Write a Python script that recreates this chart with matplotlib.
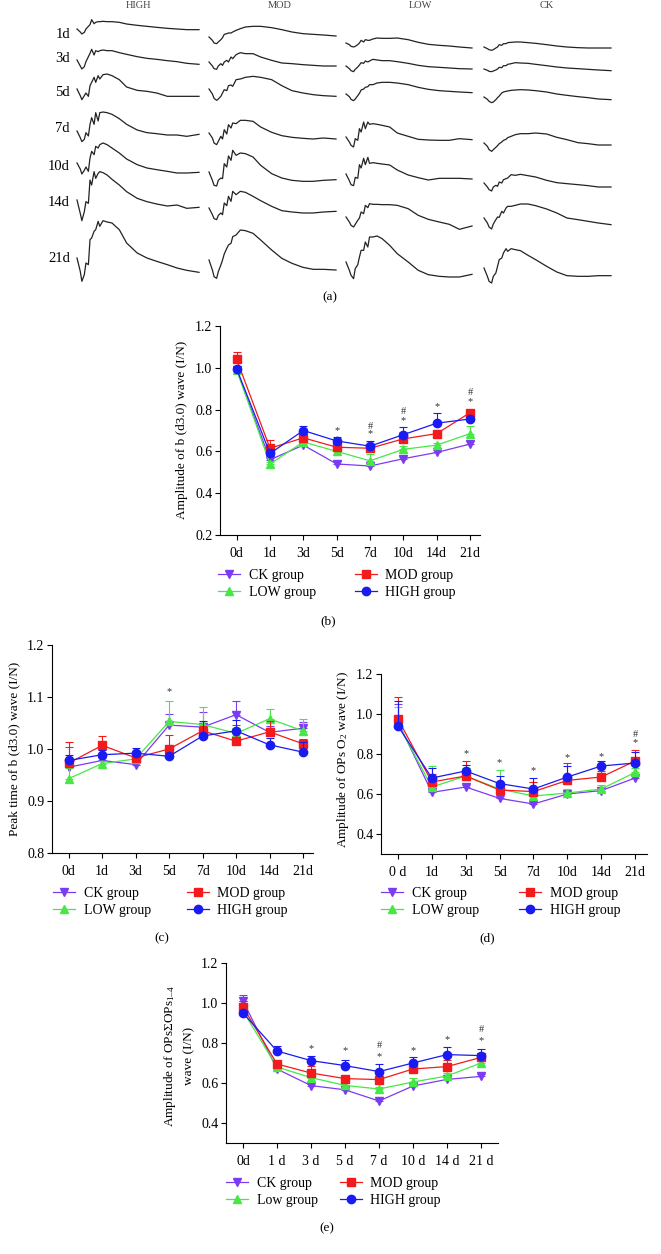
import matplotlib.pyplot as plt
import numpy as np

plt.rcParams['font.family'] = ['Liberation Serif', 'DejaVu Serif']
plt.rcParams['mathtext.fontset'] = 'custom'
plt.rcParams['mathtext.rm'] = 'Liberation Serif'
plt.rcParams['mathtext.it'] = 'Liberation Serif:italic'

W, H = 661, 1254

# --- panel (a): ERG traces, amplitude in arbitrary units sampled at t_ms ---
t_ms = [0, 4, 6, 9, 11, 14, 16, 18, 21, 23, 26, 28, 32, 37, 43, 52, 61, 74, 86, 98, 111, 123, 135, 150]
trace_days = ['1d', '3d', '5d', '7d', '10d', '14d', '21d']
trace_groups = ['HIGH', 'MOD', 'LOW', 'CK']

erg_high = [
    [0, -9, -15, -10, 0, 8, 13, 28, 16, 20, 22, 22, 23, 22, 22, 20, 15, 11, 8, 5, 2, 0, -2, -2],
    [0, -18, -27, -20, -5, 10, 20, 32, 15, 28, 25, 28, 30, 28, 28, 22, 17, 10, 5, 2, -2, -5, -10, -13],
    [0, -20, -32, -20, -12, -22, 10, 20, 35, 20, 40, 30, 43, 45, 40, 28, 6, -4, -7, -12, -22, -22, -22, -22],
    [0, -20, -32, -25, -5, -15, 20, 40, 20, 55, 30, 55, 57, 55, 50, 37, 20, 3, -5, -8, -12, -12, -16, -10],
    [0, -18, -33, -22, -12, -25, 15, 35, 25, 50, 45, 55, 60, 55, 45, 30, 12, -5, -15, -20, -25, -30, -30, -28],
    [0, -40, -62, -35, -5, -10, 60, 45, 85, 65, 80, 85, 82, 75, 62, 45, 25, 5, -5, -12, -18, -15, -25, -22],
    [0, -40, -70, -50, -15, -20, 55, 60, 80, 85, 110, 95, 112, 108, 105, 85, 45, 15, 0, -10, -20, -30, -37, -43],
]
erg_mod = [
    [0, -10, -18, -20, -15, -8, -2, 8, 10, 12, 12, 15, 20, 25, 30, 32, 32, 28, 22, 15, 10, 8, 6, 3],
    [0, -12, -20, -22, -12, -5, -10, 0, 5, 0, 15, 10, 22, 28, 25, 25, 15, 5, -3, -5, -8, -10, -12, -12],
    [0, -15, -28, -34, -30, -22, -12, -2, -5, 10, 12, 8, 28, 30, 35, 38, 35, 28, 10, -5, -12, -17, -20, -22],
    [0, -15, -30, -35, -25, -10, -18, 10, -3, 25, 15, 30, 28, 38, 38, 35, 18, 2, -8, -13, -16, -18, -15, -18],
    [0, -25, -40, -42, -25, -18, -20, 25, 15, 48, 35, 65, 50, 57, 55, 45, 20, -5, -18, -25, -28, -28, -25, -23],
    [0, -20, -32, -35, -22, -15, -20, 15, 7, 35, 20, 50, 40, 50, 47, 35, 22, 5, -8, -12, -15, -15, -12, -10],
    [0, -30, -50, -55, -35, -15, 0, 18, 35, 45, 50, 70, 75, 90, 88, 80, 60, 30, 5, -10, -22, -28, -28, -30],
]
erg_low = [
    [0, -5, -10, -12, -10, -5, 0, 8, 3, 10, 8, 8, 12, 15, 14, 14, 15, 10, 2, -4, -7, -9, -12, -15],
    [0, -8, -14, -17, -10, -3, 3, 10, 8, 15, 12, 15, 20, 18, 16, 16, 13, 8, 2, -2, -4, -6, -8, -9],
    [0, -8, -16, -20, -15, -5, 2, 12, 15, 20, 22, 28, 28, 33, 35, 35, 33, 28, 20, 14, 10, 8, 6, 4],
    [0, -15, -25, -30, -5, -10, 25, 15, 45, 25, 45, 38, 40, 38, 35, 30, 12, 2, -7, -9, -10, -10, -5, -8],
    [0, -20, -32, -35, -10, -13, 28, 18, 47, 28, 50, 32, 34, 32, 30, 27, 12, -3, -11, -18, -13, -13, -13, -15],
    [0, -15, -25, -30, -22, -10, -3, 15, 10, 35, 28, 40, 38, 38, 37, 37, 35, 25, 5, -7, -15, -22, -37, -27],
    [0, -25, -40, -50, -20, -8, 15, 35, 35, 60, 45, 75, 75, 78, 70, 50, 25, 0, -25, -38, -43, -45, -45, -37],
]
erg_ck = [
    [0, -5, -8, -10, -8, -3, 0, 7, 5, 10, 10, 13, 14, 15, 15, 13, 11, 7, 3, 0, -2, -3, -3, -3],
    [0, -4, -7, -8, -6, -3, 0, 5, 4, 10, 10, 14, 16, 19, 18, 17, 14, 10, 6, 3, 1, -1, -3, -5],
    [0, -7, -13, -17, -15, -8, -2, 3, 12, 15, 17, 18, 20, 21, 22, 21, 19, 15, 9, 5, 1, -2, -6, -8],
    [0, -10, -20, -25, -20, -13, -8, -2, 3, 8, 11, 16, 20, 25, 28, 28, 30, 27, 17, 10, 1, -2, -6, -6],
    [0, -12, -20, -24, -12, -7, -10, 3, 0, 10, 13, 15, 25, 23, 26, 22, 18, 8, 1, -2, -5, -8, -12, -12],
    [0, -15, -27, -33, -18, -5, 3, 2, 20, 15, 30, 35, 35, 38, 42, 42, 37, 27, 15, 0, -5, -10, -15, -20],
    [0, -25, -40, -45, -25, -15, 5, 25, 30, 45, 58, 50, 58, 55, 52, 38, 25, 5, -12, -23, -25, -25, -23, -23],
]

# --- time-course panels ---
days = ['0d', '1d', '3d', '5d', '7d', '10d', '14d', '21d']
days_d = ['0 d', '1d', '3d', '5d', '7d', '10d', '14d', '21d']
days_e = ['0d', '1 d', '3 d', '5 d', '7 d', '10 d', '14 d', '21 d']
groups = ['CK group', 'LOW group', 'MOD group', 'HIGH group']
groups_e = ['CK group', 'Low group', 'MOD group', 'HIGH group']

b_ck = [0.99, 0.56, 0.63, 0.54, 0.53, 0.565, 0.595, 0.635]
b_low = [0.99, 0.54, 0.645, 0.60, 0.555, 0.61, 0.63, 0.685]
b_mod = [1.04, 0.615, 0.665, 0.62, 0.615, 0.66, 0.685, 0.785]
b_high = [0.995, 0.59, 0.70, 0.65, 0.625, 0.68, 0.735, 0.755]
b_ck_sd = [0.02, 0.01, 0.01, 0.015, 0.01, 0.01, 0.01, 0.015]
b_low_sd = [0.015, 0.01, 0.01, 0.01, 0.032, 0.015, 0.01, 0.035]
b_mod_sd = [0.035, 0.04, 0.015, 0.015, 0.01, 0.035, 0.01, 0.01]
b_high_sd = [0.01, 0.02, 0.023, 0.02, 0.025, 0.035, 0.05, 0.01]
b_sig = [(3, '*', 0.70), (4, '*', 0.683), (4, '#', 0.72), (5, '*', 0.749), (5, '#', 0.793),
         (6, '*', 0.814), (7, '*', 0.838), (7, '#', 0.881)]

c_ck = [0.965, 0.978, 0.970, 1.046, 1.042, 1.066, 1.032, 1.040]
c_low = [0.943, 0.972, 0.981, 1.053, 1.047, 1.030, 1.058, 1.035]
c_mod = [0.973, 1.007, 0.983, 1.000, 1.035, 1.015, 1.033, 1.010]
c_high = [0.978, 0.989, 0.992, 0.986, 1.025, 1.035, 1.008, 0.994]
c_ck_sd = [0.038, 0.01, 0.005, 0.022, 0.03, 0.026, 0.013, 0.012]
c_low_sd = [0.02, 0.005, 0.005, 0.039, 0.033, 0.01, 0.019, 0.023]
c_mod_sd = [0.04, 0.018, 0.005, 0.027, 0.01, 0.032, 0.02, 0.01]
c_high_sd = [0.01, 0.01, 0.01, 0.005, 0.029, 0.02, 0.014, 0.02]
c_sig = [(3, '*', 1.11)]

d_ck = [0.96, 0.608, 0.635, 0.578, 0.55, 0.60, 0.617, 0.68]
d_low = [0.95, 0.635, 0.69, 0.625, 0.59, 0.605, 0.625, 0.708]
d_mod = [0.975, 0.66, 0.69, 0.62, 0.612, 0.668, 0.685, 0.765]
d_high = [0.94, 0.68, 0.715, 0.652, 0.625, 0.685, 0.74, 0.755]
d_ck_sd = [0.09, 0.01, 0.01, 0.01, 0.01, 0.01, 0.01, 0.01]
d_low_sd = [0.085, 0.105, 0.04, 0.097, 0.07, 0.02, 0.02, 0.02]
d_mod_sd = [0.11, 0.04, 0.073, 0.03, 0.05, 0.085, 0.03, 0.053]
d_high_sd = [0.125, 0.05, 0.03, 0.04, 0.055, 0.055, 0.025, 0.055]
d_sig = [(2, '*', 0.80), (3, '*', 0.757), (4, '*', 0.715), (5, '*', 0.783), (6, '*', 0.787),
         (7, '*', 0.857), (7, '#', 0.898)]

e_ck = [1.01, 0.67, 0.587, 0.566, 0.51, 0.585, 0.618, 0.633]
e_low = [0.96, 0.68, 0.627, 0.588, 0.57, 0.605, 0.635, 0.70]
e_mod = [0.98, 0.695, 0.65, 0.622, 0.617, 0.67, 0.682, 0.728]
e_high = [0.95, 0.76, 0.712, 0.687, 0.657, 0.70, 0.742, 0.737]
e_ck_sd = [0.03, 0.01, 0.01, 0.01, 0.01, 0.01, 0.01, 0.01]
e_low_sd = [0.02, 0.01, 0.01, 0.01, 0.01, 0.022, 0.015, 0.01]
e_mod_sd = [0.03, 0.015, 0.035, 0.015, 0.01, 0.015, 0.035, 0.015]
e_high_sd = [0.01, 0.025, 0.023, 0.028, 0.036, 0.03, 0.04, 0.031]
e_sig = [(2, '*', 0.773), (3, '*', 0.761), (4, '*', 0.731), (4, '#', 0.79), (5, '*', 0.761),
         (6, '*', 0.818), (7, '*', 0.81), (7, '#', 0.867)]

colors = ['#7B3BF2', '#45E845', '#F21A1A', '#1A1AF2']
markers = ['v', '^', 's', 'o']

fig = plt.figure(figsize=(W / 100, H / 100), dpi=100)


def fx(px):
    return px / W


def fy(py):
    return 1 - py / H


# ---------------- panel (a) ----------------
ax_a = fig.add_axes([0, fy(300), 1, 300 / H])
ax_a.set_xlim(0, W)
ax_a.set_ylim(300, 0)
ax_a.axis('off')

trace_x0 = [77, 209, 346, 484]
trace_w = [122, 127, 126, 127]
trace_base = [
    [29, 60, 89, 131, 163, 200, 258],
    [37, 62, 89, 133, 172, 208, 260],
    [43, 66, 94, 137, 174, 217, 262],
    [47, 69, 97, 143, 183, 218, 268],
]
t = np.array(t_ms)
for gi, traces in enumerate([erg_high, erg_mod, erg_low, erg_ck]):
    for di, amp in enumerate(traces):
        xs = trace_x0[gi] + t / 150 * trace_w[gi]
        ys = trace_base[gi][di] - np.array(amp) / 3
        ax_a.plot(xs, ys, color='#222222', lw=0.9)

for gi, g in enumerate(trace_groups):
    ax_a.text([138, 280, 420, 547][gi], 1, g, ha='center', va='top', fontsize=7.5, color='#444444')
for di, d in enumerate(trace_days):
    ax_a.text(70, [34, 58, 92, 129, 166, 203, 259][di], d, ha='right', va='center', fontsize=10.5)
ax_a.text(330, 297, '(a)', ha='center', va='center', fontsize=9.5)


# ---------------- line panels ----------------
def line_panel(box, ylim, yticks, xlim, xlabels, vals, sds, sig, labels, leg, colsp):
    left, right, top, bottom = box
    ax = fig.add_axes([fx(left), fy(bottom), fx(right - left), (bottom - top) / H])
    x = np.arange(len(xlabels))
    handles = []
    for k in range(4):
        v = np.array(vals[k])
        e = np.array(sds[k])
        ax.errorbar(x, v, yerr=[np.zeros_like(e), e], fmt='none', ecolor=colors[k],
                    elinewidth=0.8, capsize=3.2, capthick=0.8, zorder=2 + k)
        ln, = ax.plot(x, v, color=colors[k], lw=0.9, marker=markers[k], ms=6,
                      mec=colors[k], mfc=colors[k], zorder=3 + k)
        handles.append(ln)
    for (i, s, y) in sig:
        ax.text(i, y, s, ha='center', va='center', fontsize=7.5, color='#333333')
    ax.set_xlim(*xlim)
    ax.set_ylim(*ylim)
    ax.set_yticks(yticks)
    ax.set_yticklabels(['%.1f' % v for v in yticks])
    ax.set_xticks(x)
    ax.set_xticklabels(xlabels)
    ax.spines['top'].set_visible(False)
    ax.spines['right'].set_visible(False)
    for sp in ['left', 'bottom']:
        ax.spines[sp].set_linewidth(0.8)
    ax.tick_params(direction='out', length=3.5, width=0.8, labelsize=10, pad=2)
    ax.tick_params(axis='x', pad=5)
    ax.patch.set_alpha(0)
    fig.legend(handles, labels, ncol=2, loc='upper left',
               bbox_to_anchor=(fx(leg[0]), fy(leg[1])), bbox_transform=fig.transFigure,
               frameon=False, fontsize=10, borderpad=0, borderaxespad=0,
               handlelength=1.6, handletextpad=0.6, labelspacing=0.3, columnspacing=colsp)
    return ax


# (b)
line_panel((220, 480, 326, 535), (0.2, 1.2), [0.2, 0.4, 0.6, 0.8, 1.0, 1.2], (-0.5, 7.3), days,
           [b_ck, b_low, b_mod, b_high], [b_ck_sd, b_low_sd, b_mod_sd, b_high_sd], b_sig,
           groups, (218, 569), 2.8)
fig.text(fx(182), fy(430), 'Amplitude of b (d3.0) wave (I/N)', rotation=90, ha='center', va='center', fontsize=9.5)
fig.text(fx(328), fy(621), '(b)', ha='center', va='center', fontsize=9.5)

# (c)
line_panel((52, 313, 645, 853), (0.8, 1.2), [0.8, 0.9, 1.0, 1.1, 1.2], (-0.5, 7.3), days,
           [c_ck, c_low, c_mod, c_high], [c_ck_sd, c_low_sd, c_mod_sd, c_high_sd], c_sig,
           groups, (53, 887), 2.6)
fig.text(fx(14), fy(749), 'Peak time of b (d3.0) wave (I/N)', rotation=90, ha='center', va='center', fontsize=9.5)
fig.text(fx(162), fy(938), '(c)', ha='center', va='center', fontsize=9.5)

# (d)
line_panel((381, 647, 674, 854), (0.3, 1.2), [0.4, 0.6, 0.8, 1.0, 1.2], (-0.5, 7.35), days_d,
           [d_ck, d_low, d_mod, d_high], [d_ck_sd, d_low_sd, d_mod_sd, d_high_sd], d_sig,
           groups, (381, 887), 2.9)
fig.text(fx(343), fy(760), r'Amplitude of OPs O$_{\rm 2}$ wave (I/N)', rotation=90, ha='center', va='center', fontsize=9.5)
fig.text(fx(487), fy(938), '(d)', ha='center', va='center', fontsize=9.5)

# (e)
line_panel((226, 498, 963, 1143), (0.3, 1.2), [0.4, 0.6, 0.8, 1.0, 1.2], (-0.5, 7.5), days_e,
           [e_ck, e_low, e_mod, e_high], [e_ck_sd, e_low_sd, e_mod_sd, e_high_sd], e_sig,
           groups_e, (226, 1177), 1.6)
fig.text(fx(170), fy(1056), r'Amplitude of OPsΣOPs$_{\rm 1–4}$', rotation=90, ha='center', va='center', fontsize=9.5)
fig.text(fx(189), fy(1056), 'wave (I/N)', rotation=90, ha='center', va='center', fontsize=9.5)
fig.text(fx(327), fy(1228), '(e)', ha='center', va='center', fontsize=9.5)

fig.savefig('out.png', dpi=100)
